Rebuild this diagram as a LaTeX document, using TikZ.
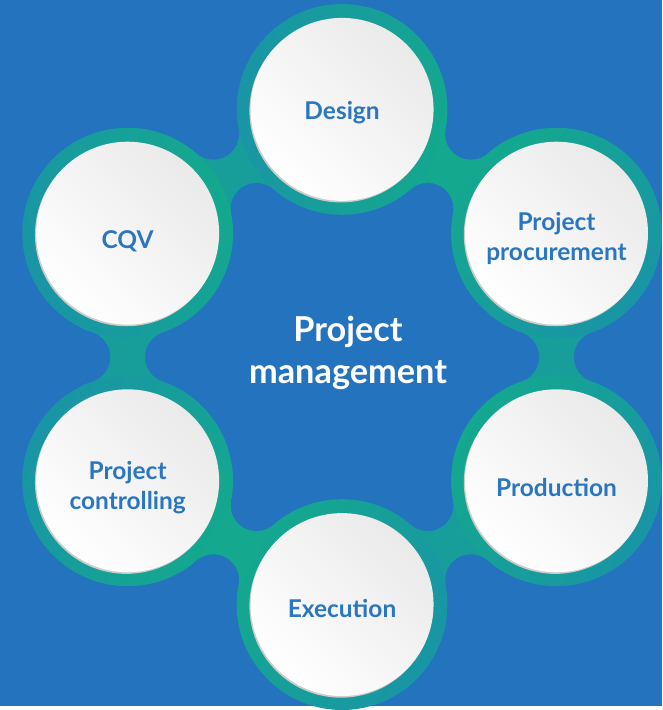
\documentclass[tikz,border=0pt]{standalone}
\usepackage{fontspec}
\setmainfont{Lato}
\definecolor{bgblue}{HTML}{2373BE}
\definecolor{tealgreen}{HTML}{14A88F}
\definecolor{tealblue}{HTML}{1995A5}
\definecolor{tealmid}{HTML}{179E9B}
\definecolor{discgray}{HTML}{EAEAEA}
\definecolor{rimgray}{HTML}{CFCBC6}
\definecolor{labelblue}{HTML}{2A76C0}

\begin{document}
\begin{tikzpicture}[x=1pt,y=1pt,
    ring/.style={circle,minimum size=212pt,inner sep=0pt,left color=tealblue,right color=tealgreen},
    band/.style={line width=70pt,draw=#1},
    disc/.style={circle,minimum size=184pt,inner sep=0pt,
      left color=white,right color=discgray,shading angle=135,
      preaction={fill=rimgray,transform canvas={shift={(-1.2pt,-1.6pt)}}}},
    lbl/.style={align=center,yshift=-5pt,text=labelblue,
      font=\bfseries\fontsize{24.6}{30}\selectfont}]

\fill[bgblue] (-344,-351) rectangle (322,359);

\coordinate (c1) at (90:249);
\coordinate (c2) at (30:249);
\coordinate (c3) at (-30:249);
\coordinate (c4) at (-90:249);
\coordinate (c5) at (-150:249);
\coordinate (c6) at (150:249);

% bands between the rings
\path (c1) edge[band=tealgreen] (c2)
      (c2) edge[band=tealmid] (c3)
      (c3) edge[band=tealmid] (c4)
      (c4) edge[band=tealgreen] (c5)
      (c5) edge[band=tealmid] (c6)
      (c6) edge[band=tealmid] (c1);

\node[ring,shading angle=80] (r1) at (c1) {};
\node[ring,shading angle=225] (r2) at (c2) {};
\node[ring,shading angle=240] (r3) at (c3) {};
\node[ring,shading angle=240] (r4) at (c4) {};
\node[ring,shading angle=60] (r5) at (c5) {};
\node[ring,shading angle=110] (r6) at (c6) {};

% concave fillets
\foreach \a in {0,60,...,300} {
  \fill[bgblue] (\a:172.3) circle (25.8pt);
  \fill[bgblue] (\a:258.9) circle (25.8pt);
}

\node[disc,label={[lbl,yshift=1.5pt]center:Design}] (1) at (c1) {};
\node[disc,label={[lbl]center:{Project\\procurement}}] (2) at (c2) {};
\node[disc,label={[lbl,yshift=-2pt]center:Production}] (3) at (c3) {};
\node[disc,label={[lbl,yshift=1.5pt]center:Execution}] (4) at (c4) {};
\node[disc,label={[lbl,yshift=-2pt]center:{Project\\controlling}}] (5) at (c5) {};
\node[disc,label={[lbl,yshift=-3pt]center:CQV}] (6) at (c6) {};

\node[text=white,align=center,font=\bfseries\fontsize{34.5}{42}\selectfont] (pm) at (6,4) {Project\\management};

\end{tikzpicture}
\end{document}
